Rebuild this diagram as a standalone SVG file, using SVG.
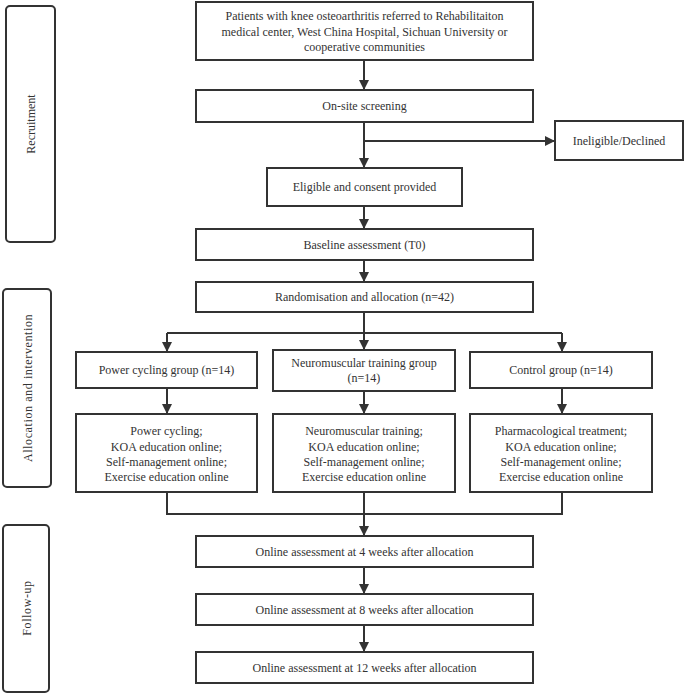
<svg xmlns="http://www.w3.org/2000/svg" width="685" height="695" viewBox="0 0 685 695">
<defs>
<marker id="ah" markerWidth="10" markerHeight="11" refX="10" refY="5" orient="auto" markerUnits="userSpaceOnUse" viewBox="0 0 10 10">
<path d="M0,0 L10,5 L0,10 Z" fill="#333"/>
</marker>
<style>
.b{fill:#fff;stroke:#333;stroke-width:2}
.s{fill:#fff;stroke:#333;stroke-width:2}
text{font-family:"Liberation Serif","Times New Roman",serif;font-size:12px;fill:#333;text-anchor:middle;dominant-baseline:central}
.c{fill:none;stroke:#333;stroke-width:2}
.a{fill:none;stroke:#333;stroke-width:2;marker-end:url(#ah)}
</style>
</defs>
<rect width="685" height="695" fill="#fff"/>
<g id="stage-recruitment"><rect class="s" x="6" y="6" width="49" height="236" rx="4"/><text transform="translate(31,124) rotate(-90)">Recruitment</text></g>
<g id="stage-allocation"><rect class="s" x="3" y="289" width="48" height="198" rx="4"/><text transform="translate(28,388) rotate(-90)" letter-spacing="0.6">Allocation and intervention</text></g>
<g id="stage-followup"><rect class="s" x="3" y="525" width="46" height="167" rx="4"/><text transform="translate(27,608) rotate(-90)" letter-spacing="0.6">Follow-up</text></g>
<g id="connectors">
<line class="a" x1="364" y1="60" x2="364" y2="90"/>
<line class="a" x1="364" y1="122" x2="364" y2="168"/>
<line class="a" x1="364" y1="141" x2="555" y2="141"/>
<line class="a" x1="364" y1="206" x2="364" y2="229"/>
<line class="a" x1="364" y1="260" x2="364" y2="282"/>
<polyline class="c" points="364,312 364,333"/>
<polyline class="c" points="167,333 562,333"/>
<line class="a" x1="167" y1="333" x2="167" y2="352"/>
<line class="a" x1="364" y1="333" x2="364" y2="350"/>
<line class="a" x1="562" y1="333" x2="562" y2="352"/>
<line class="a" x1="167" y1="388" x2="167" y2="414"/>
<line class="a" x1="364" y1="391" x2="364" y2="414"/>
<line class="a" x1="562" y1="388" x2="562" y2="414"/>
<polyline class="c" points="167,492 167,514 562,514 562,492"/>
<line class="a" x1="364" y1="492" x2="364" y2="536"/>
<line class="a" x1="364" y1="567" x2="364" y2="594"/>
<line class="a" x1="364" y1="625" x2="364" y2="652"/>
</g>
<g id="patients"><rect class="b" x="196" y="2" width="337" height="58"/><text x="364.5" y="16">Patients with knee osteoarthritis referred to Rehabilitaiton</text><text x="364.5" y="32">medical center, West China Hospital, Sichuan University or</text><text x="364.5" y="47">cooperative communities</text></g>
<g id="screening"><rect class="b" x="196" y="90" width="337" height="32"/><text x="364.5" y="106">On-site screening</text></g>
<g id="ineligible"><rect class="b" x="555" y="121" width="128" height="39"/><text x="619" y="141">Ineligible/Declined</text></g>
<g id="eligible"><rect class="b" x="267" y="168" width="195" height="38"/><text x="364.5" y="187">Eligible and consent provided</text></g>
<g id="baseline"><rect class="b" x="196" y="229" width="337" height="31"/><text x="364.5" y="244.5">Baseline assessment (T0)</text></g>
<g id="randomisation"><rect class="b" x="196" y="282" width="337" height="30"/><text x="364.5" y="297">Randomisation and allocation (n=42)</text></g>
<g id="power-group"><rect class="b" x="76" y="352" width="181" height="36"/><text x="166.5" y="370">Power cycling group (n=14)</text></g>
<g id="neuro-group"><rect class="b" x="273" y="350" width="182" height="41"/><text x="364" y="363">Neuromuscular training group</text><text x="364" y="378">(n=14)</text></g>
<g id="control-group"><rect class="b" x="470" y="352" width="182" height="36"/><text x="561" y="370">Control group (n=14)</text></g>
<g id="power-tx"><rect class="b" x="76" y="414" width="181" height="78"/><text x="166.5" y="431">Power cycling;</text><text x="166.5" y="446.5">KOA education online;</text><text x="166.5" y="462">Self-management online;</text><text x="166.5" y="477">Exercise education online</text></g>
<g id="neuro-tx"><rect class="b" x="273" y="414" width="182" height="78"/><text x="364" y="431">Neuromuscular training;</text><text x="364" y="446.5">KOA education online;</text><text x="364" y="462">Self-management online;</text><text x="364" y="477">Exercise education online</text></g>
<g id="control-tx"><rect class="b" x="470" y="414" width="182" height="78"/><text x="561" y="431">Pharmacological treatment;</text><text x="561" y="446.5">KOA education online;</text><text x="561" y="462">Self-management online;</text><text x="561" y="477">Exercise education online</text></g>
<g id="week4"><rect class="b" x="196" y="536" width="337" height="31"/><text x="364.5" y="551.5">Online assessment at 4 weeks after allocation</text></g>
<g id="week8"><rect class="b" x="196" y="594" width="337" height="31"/><text x="364.5" y="609.5">Online assessment at 8 weeks after allocation</text></g>
<g id="week12"><rect class="b" x="196" y="652" width="337" height="31"/><text x="364.5" y="667.5">Online assessment at 12 weeks after allocation</text></g>
</svg>
